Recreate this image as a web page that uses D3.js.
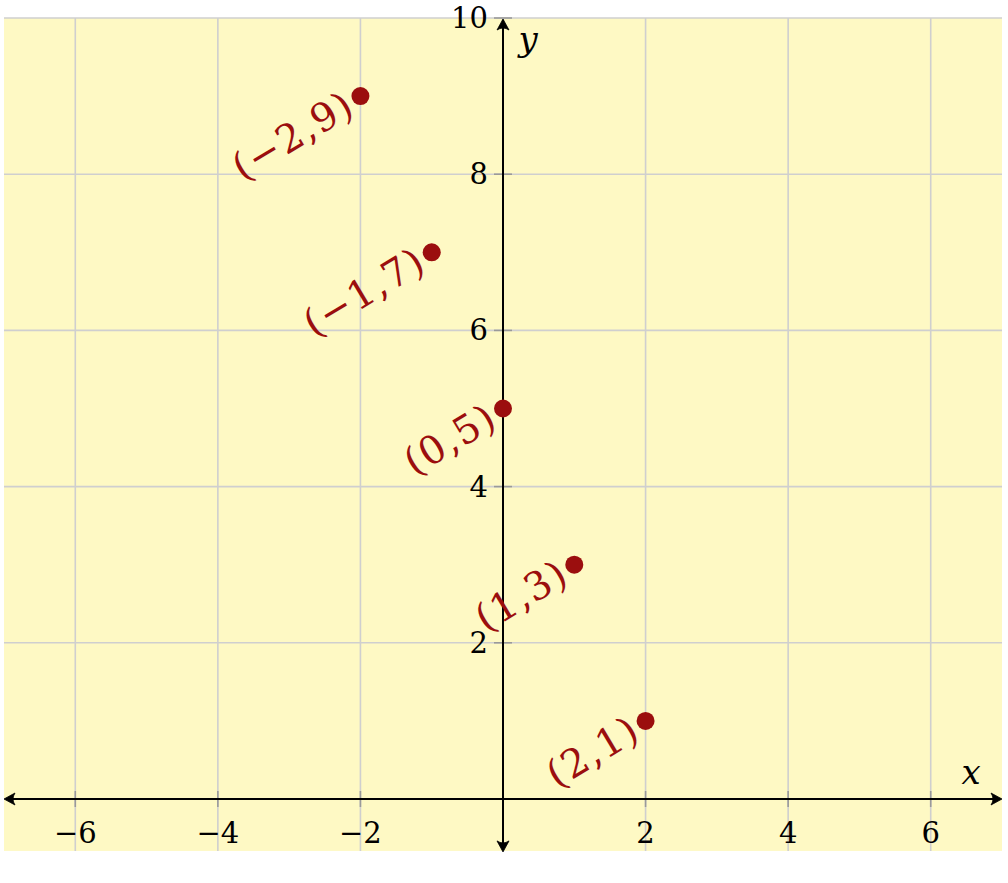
<!DOCTYPE html>
<html><head><meta charset="utf-8">
<script src="https://cdn.jsdelivr.net/npm/d3@7"></script>
<style>html,body{margin:0;padding:0;background:#fff;}svg{display:block;}</style>
</head><body>
<script>
const xValues = [-2, -1, 0, 1, 2];
const yValues = [9, 7, 5, 3, 1];
const pointLabels = ["(\u22122,9)", "(\u22121,7)", "(0,5)", "(1,3)", "(2,1)"];
const xTicks = [-6, -4, -2, 2, 4, 6];
const yTicks = [2, 4, 6, 8, 10];
const xGrid = [-6, -4, -2, 0, 2, 4, 6];
const yGrid = [2, 4, 6, 8, 10];

const W = 1008, H = 883;
const svg = d3.select("body").append("svg").attr("width", W).attr("height", H);
const x = d3.scaleLinear().domain([-7, 7]).range([4, 1002]);
const y = d3.scaleLinear().domain([0, 10]).range([799, 18]);
const yBottom = -0.665;

const red = "#9b0e0e";
const font = "'DejaVu Serif', serif";

svg.append("rect").attr("x", x(-7)).attr("y", y(10)).attr("width", x(7) - x(-7))
  .attr("height", y(yBottom) - y(10)).attr("fill", "#fef9c4");

svg.selectAll(".gx").data(xGrid).join("line")
  .attr("x1", d => x(d)).attr("x2", d => x(d)).attr("y1", y(10)).attr("y2", y(yBottom))
  .attr("stroke", "#cfcfcf").attr("stroke-width", 1.6);
svg.selectAll(".gy").data(yGrid).join("line")
  .attr("x1", x(-7)).attr("x2", x(7)).attr("y1", d => y(d)).attr("y2", d => y(d))
  .attr("stroke", "#cfcfcf").attr("stroke-width", 1.6);

svg.selectAll(".tx").data(xTicks).join("line")
  .attr("x1", d => x(d)).attr("x2", d => x(d)).attr("y1", y(0) - 8).attr("y2", y(0) + 8)
  .attr("stroke", "#9a9a9a").attr("stroke-width", 1.6);
svg.selectAll(".ty").data(yTicks).join("line")
  .attr("x1", x(0) - 9).attr("x2", x(0) + 9).attr("y1", d => y(d)).attr("y2", d => y(d))
  .attr("stroke", "#9a9a9a").attr("stroke-width", 1.6);

const x0 = x(0), y0 = y(0);
svg.append("line").attr("x1", x(-7) + 2).attr("x2", x(7) - 2).attr("y1", y0).attr("y2", y0)
  .attr("stroke", "#000").attr("stroke-width", 2);
svg.append("line").attr("x1", x0).attr("x2", x0).attr("y1", y(10) + 2).attr("y2", y(yBottom) - 1)
  .attr("stroke", "#000").attr("stroke-width", 2);

function arrow(tx, ty, angle) {
  svg.append("path")
    .attr("d", "M0,0 L-11,-6 Q-7,0 -11,6 Z")
    .attr("transform", `translate(${tx},${ty}) rotate(${angle})`)
    .attr("fill", "#000").attr("stroke", "#000").attr("stroke-width", 0.8).attr("stroke-linejoin", "round");
}
arrow(x(7), y0, 0);
arrow(x(-7), y0, 180);
arrow(x0, y(10) + 1, -90);
arrow(x0, y(yBottom) + 1, 90);

svg.selectAll(".lx").data(xTicks).join("text")
  .attr("x", d => x(d)).attr("y", y0 + 34).attr("text-anchor", "middle")
  .attr("dominant-baseline", "central")
  .attr("font-family", font).attr("font-size", 29).attr("fill", "#000")
  .text(d => d < 0 ? "\u2212" + Math.abs(d) : d);
svg.selectAll(".ly").data(yTicks).join("text")
  .attr("x", x0 - 15).attr("y", d => y(d)).attr("text-anchor", "end")
  .attr("dominant-baseline", "central")
  .attr("font-family", font).attr("font-size", 29).attr("fill", "#000")
  .text(d => d);

svg.append("text").attr("x", x(7) - 31).attr("y", y0 - 15).attr("text-anchor", "middle")
  .attr("font-family", font).attr("font-style", "italic").attr("font-size", 34).text("x");
svg.append("text").attr("x", x0 + 25).attr("y", y(10) + 33).attr("text-anchor", "middle")
  .attr("font-family", font).attr("font-style", "italic").attr("font-size", 34).text("y");

const pts = xValues.map((v, i) => ({ x: v, y: yValues[i], label: pointLabels[i] }));
svg.selectAll(".pt").data(pts).join("circle")
  .attr("cx", d => x(d.x)).attr("cy", d => y(d.y)).attr("r", 9).attr("fill", red);

svg.selectAll(".pl").data(pts).join("text")
  .attr("transform", d => `translate(${x(d.x) - 10},${y(d.y) + 5}) rotate(-31)`)
  .attr("text-anchor", "end").attr("dominant-baseline", "central")
  .attr("font-family", font).attr("font-size", 39).attr("letter-spacing", 1.5)
  .attr("fill", red).text(d => d.label);
</script>
</body></html>
